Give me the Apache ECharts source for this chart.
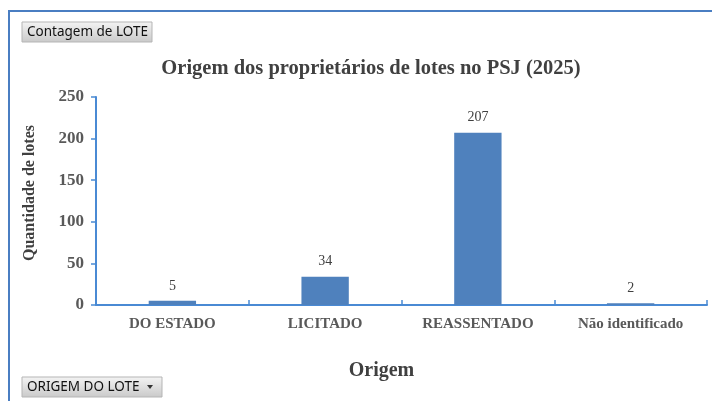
<!DOCTYPE html>
<html><head><meta charset="utf-8">
<script src="https://cdn.jsdelivr.net/npm/echarts@6/dist/echarts.min.js"></script>
<style>html,body{margin:0;padding:0;background:#fff}#c{width:712px;height:401px}</style>
</head><body><div id="c"></div>
<script>
const categories = ['DO ESTADO', 'LICITADO', 'REASSENTADO', 'Não identificado'];
const values = [5, 34, 207, 2];
const yTicks = [0, 50, 100, 150, 200, 250];

const serif = '"Liberation Serif", "DejaVu Serif", serif';
const chart = echarts.init(document.getElementById('c'));
function button(x, y, w, h, label, arrow) {
  const children = [
    {type: 'rect', shape: {x: 0, y: 0, width: w, height: h},
     style: {fill: new echarts.graphic.LinearGradient(0, 0, 0, 1, [{offset: 0, color: '#f4f4f4'}, {offset: 1, color: '#c9c9c9'}]),
             stroke: '#b5b5b5', lineWidth: 1}},
    {type: 'text', x: 5, y: h / 2, style: {text: label, font: '13.5px "Noto Sans", sans-serif', fill: '#111', verticalAlign: 'middle'}}
  ];
  if (arrow) children.push({type: 'polygon', shape: {points: [[w - 15, h / 2 - 2], [w - 9, h / 2 - 2], [w - 12, h / 2 + 2]]}, style: {fill: '#333'}});
  return {type: 'group', x: x, y: y, children: children};
}
chart.setOption({
  animation: false,
  graphic: [
    {type: 'polyline', shape: {points: [[9, 401], [9, 11], [712, 11]]}, style: {stroke: '#4a7ec2', lineWidth: 2, fill: null}},
    button(22, 22, 130, 20, 'Contagem de LOTE', false),
    button(22, 377, 140, 20, 'ORIGEM DO LOTE', true)
  ],
  title: {text: 'Origem dos proprietários de lotes no PSJ (2025)', left: 366, textAlign: 'center', top: 53,
    textStyle: {fontFamily: serif, fontSize: 20.5, fontWeight: 'bold', color: '#404040'}},
  grid: {left: 96, right: 5, top: 97, bottom: 96},
  xAxis: {type: 'category', data: categories,
    name: 'Origem', nameLocation: 'middle', nameGap: 56,
    nameTextStyle: {fontFamily: serif, fontSize: 20, fontWeight: 'bold', color: '#404040', padding: [0, 40, 0, 0]},
    axisLine: {lineStyle: {color: '#4a8ad4', width: 2}},
    axisTick: {show: true, inside: true, length: 5, lineStyle: {color: '#4a8ad4', width: 1.5}},
    axisLabel: {fontFamily: serif, fontSize: 15, fontWeight: 'bold', color: '#595959', margin: 12}},
  yAxis: {type: 'value', min: 0, max: 250, interval: 50,
    name: 'Quantidade de lotes', nameLocation: 'middle', nameGap: 58,
    nameTextStyle: {fontFamily: serif, fontSize: 16, fontWeight: 'bold', color: '#404040', padding: [0, 0, 0, 16]},
    axisLine: {show: true, lineStyle: {color: '#4a8ad4', width: 2}},
    axisTick: {show: true, length: 5, lineStyle: {color: '#4a8ad4', width: 1.5}},
    splitLine: {show: false},
    axisLabel: {fontFamily: serif, fontSize: 17, fontWeight: 'bold', color: '#595959', margin: 12,
      formatter: v => yTicks.includes(v) ? String(v) : ''}},
  series: [{type: 'bar', data: values, barWidth: '31%',
    itemStyle: {color: '#4f81bd'},
    label: {show: true, position: 'top', distance: 8, fontFamily: serif, fontSize: 14, color: '#404040'}}]
});
</script></body></html>
